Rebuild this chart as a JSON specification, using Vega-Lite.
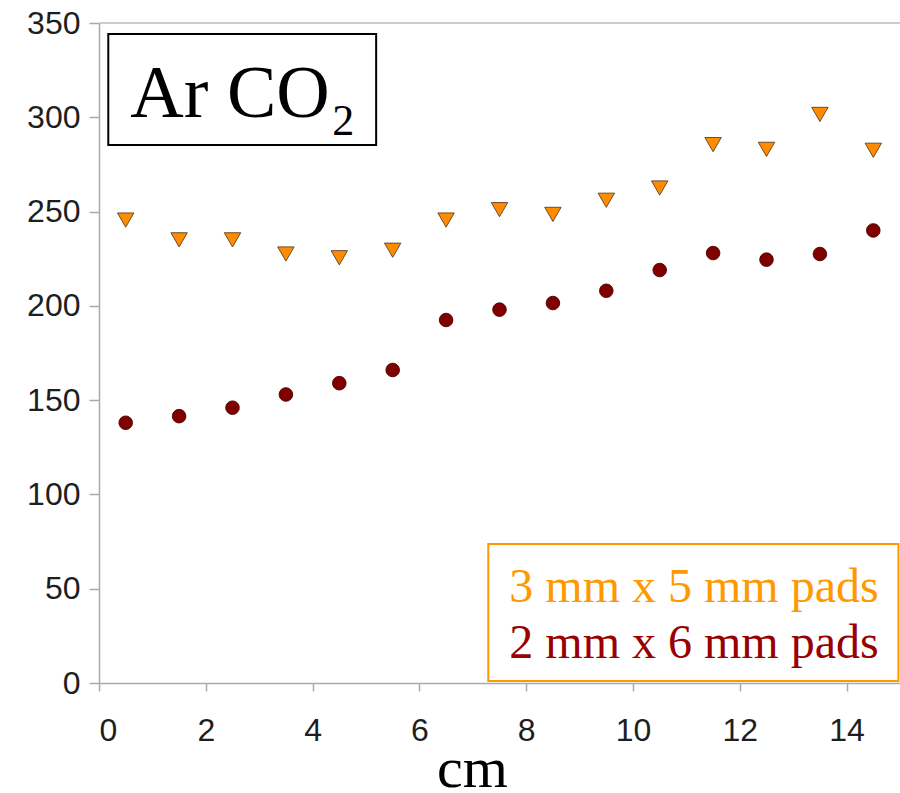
{
  "$schema": "https://vega.github.io/schema/vega-lite/v6.json",
  "autosize": {"type": "none"},
  "width": 801,
  "height": 660,
  "padding": {"left": 99, "top": 23, "right": 0, "bottom": 110},
  "background": "white",
  "config": {
    "view": {"stroke": null},
    "axis": {
      "labelFont": "Liberation Sans",
      "labelFontSize": 32,
      "labelColor": "#1e1e1e",
      "domainColor": "#aaaaaa",
      "domainWidth": 1.5,
      "tickColor": "#aaaaaa",
      "tickWidth": 1.5,
      "grid": false
    }
  },
  "datasets": {
    "pads": [
      {"cm": 0.5, "signal": 245.5, "series": "3 mm x 5 mm pads"},
      {"cm": 1.5, "signal": 235, "series": "3 mm x 5 mm pads"},
      {"cm": 2.5, "signal": 235, "series": "3 mm x 5 mm pads"},
      {"cm": 3.5, "signal": 227.5, "series": "3 mm x 5 mm pads"},
      {"cm": 4.5, "signal": 225.5, "series": "3 mm x 5 mm pads"},
      {"cm": 5.5, "signal": 229.5, "series": "3 mm x 5 mm pads"},
      {"cm": 6.5, "signal": 245.5, "series": "3 mm x 5 mm pads"},
      {"cm": 7.5, "signal": 251, "series": "3 mm x 5 mm pads"},
      {"cm": 8.5, "signal": 248.5, "series": "3 mm x 5 mm pads"},
      {"cm": 9.5, "signal": 256, "series": "3 mm x 5 mm pads"},
      {"cm": 10.5, "signal": 262.5, "series": "3 mm x 5 mm pads"},
      {"cm": 11.5, "signal": 285.5, "series": "3 mm x 5 mm pads"},
      {"cm": 12.5, "signal": 283, "series": "3 mm x 5 mm pads"},
      {"cm": 13.5, "signal": 301.5, "series": "3 mm x 5 mm pads"},
      {"cm": 14.5, "signal": 282.5, "series": "3 mm x 5 mm pads"},
      {"cm": 0.5, "signal": 138, "series": "2 mm x 6 mm pads"},
      {"cm": 1.5, "signal": 141.5, "series": "2 mm x 6 mm pads"},
      {"cm": 2.5, "signal": 146, "series": "2 mm x 6 mm pads"},
      {"cm": 3.5, "signal": 153, "series": "2 mm x 6 mm pads"},
      {"cm": 4.5, "signal": 159, "series": "2 mm x 6 mm pads"},
      {"cm": 5.5, "signal": 166, "series": "2 mm x 6 mm pads"},
      {"cm": 6.5, "signal": 192.5, "series": "2 mm x 6 mm pads"},
      {"cm": 7.5, "signal": 198, "series": "2 mm x 6 mm pads"},
      {"cm": 8.5, "signal": 201.5, "series": "2 mm x 6 mm pads"},
      {"cm": 9.5, "signal": 208, "series": "2 mm x 6 mm pads"},
      {"cm": 10.5, "signal": 219, "series": "2 mm x 6 mm pads"},
      {"cm": 11.5, "signal": 228, "series": "2 mm x 6 mm pads"},
      {"cm": 12.5, "signal": 224.5, "series": "2 mm x 6 mm pads"},
      {"cm": 13.5, "signal": 227.5, "series": "2 mm x 6 mm pads"},
      {"cm": 14.5, "signal": 240, "series": "2 mm x 6 mm pads"}
    ]
  },
  "layer": [
    {
      "data": {"values": [{}]},
      "mark": {"type": "rule", "color": "#bbbbbb", "strokeWidth": 1.5},
      "encoding": {"y": {"datum": 350, "type": "quantitative"}}
    },
    {
      "data": {"name": "pads"},
      "mark": {"type": "point", "filled": true, "opacity": 1, "strokeWidth": 0.9},
      "encoding": {
        "x": {
          "field": "cm",
          "type": "quantitative",
          "scale": {"domain": [0, 15], "nice": false},
          "axis": {
            "values": [0, 2, 4, 6, 8, 10, 12, 14],
            "tickSize": 8,
            "labelPadding": 24,
            "title": "cm",
            "titleFont": "Liberation Serif",
            "titleFontSize": 58,
            "titleFontWeight": "normal",
            "titleColor": "#000000",
            "titleX": 373,
            "titleY": 103,
            "titleBaseline": "alphabetic"
          }
        },
        "y": {
          "field": "signal",
          "type": "quantitative",
          "scale": {"domain": [0, 350], "nice": false},
          "axis": {
            "values": [0, 50, 100, 150, 200, 250, 300, 350],
            "tickSize": 10,
            "labelPadding": 9,
            "title": null
          }
        },
        "fill": {
          "field": "series",
          "type": "nominal",
          "scale": {
            "domain": ["3 mm x 5 mm pads", "2 mm x 6 mm pads"],
            "range": ["#FF8C00", "#800000"]
          },
          "legend": null
        },
        "stroke": {
          "field": "series",
          "type": "nominal",
          "scale": {
            "domain": ["3 mm x 5 mm pads", "2 mm x 6 mm pads"],
            "range": ["#5c4020", "#4a0000"]
          },
          "legend": null
        },
        "shape": {
          "field": "series",
          "type": "nominal",
          "scale": {
            "domain": ["3 mm x 5 mm pads", "2 mm x 6 mm pads"],
            "range": ["triangle-down", "circle"]
          },
          "legend": null
        },
        "size": {
          "field": "series",
          "type": "nominal",
          "scale": {
            "domain": ["3 mm x 5 mm pads", "2 mm x 6 mm pads"],
            "range": [270, 185]
          },
          "legend": null
        }
      }
    },
    {
      "data": {"values": [{}]},
      "mark": {"type": "rect", "fill": "white", "stroke": "#000000", "strokeWidth": 2},
      "encoding": {
        "x": {"datum": 0.174, "type": "quantitative"},
        "x2": {"datum": 5.19},
        "y": {"datum": 344.2, "type": "quantitative"},
        "y2": {"datum": 285.3}
      }
    },
    {
      "data": {"values": [{}]},
      "mark": {"type": "text", "text": "Ar CO", "font": "Liberation Serif", "fontSize": 74, "align": "left", "baseline": "alphabetic", "color": "#000000"},
      "encoding": {
        "x": {"datum": 0.586, "type": "quantitative"},
        "y": {"datum": 300.2, "type": "quantitative"}
      }
    },
    {
      "data": {"values": [{}]},
      "mark": {"type": "text", "text": "2", "font": "Liberation Serif", "fontSize": 44, "align": "left", "baseline": "alphabetic", "color": "#000000"},
      "encoding": {
        "x": {"datum": 4.37, "type": "quantitative"},
        "y": {"datum": 290.6, "type": "quantitative"}
      }
    },
    {
      "data": {"values": [{}]},
      "mark": {"type": "rect", "fill": "white", "stroke": "#FF9900", "strokeWidth": 2},
      "encoding": {
        "x": {"datum": 7.29, "type": "quantitative"},
        "x2": {"datum": 14.97},
        "y": {"datum": 73.7, "type": "quantitative"},
        "y2": {"datum": 1.06}
      }
    },
    {
      "data": {"values": [{}]},
      "mark": {"type": "text", "text": "3 mm x 5 mm pads", "font": "Liberation Serif", "fontSize": 48, "align": "left", "baseline": "alphabetic", "color": "#FF9900"},
      "encoding": {
        "x": {"datum": 7.684, "type": "quantitative"},
        "y": {"datum": 42.95, "type": "quantitative"}
      }
    },
    {
      "data": {"values": [{}]},
      "mark": {"type": "text", "text": "2 mm x 6 mm pads", "font": "Liberation Serif", "fontSize": 48, "align": "left", "baseline": "alphabetic", "color": "#990000"},
      "encoding": {
        "x": {"datum": 7.684, "type": "quantitative"},
        "y": {"datum": 13.26, "type": "quantitative"}
      }
    }
  ]
}
